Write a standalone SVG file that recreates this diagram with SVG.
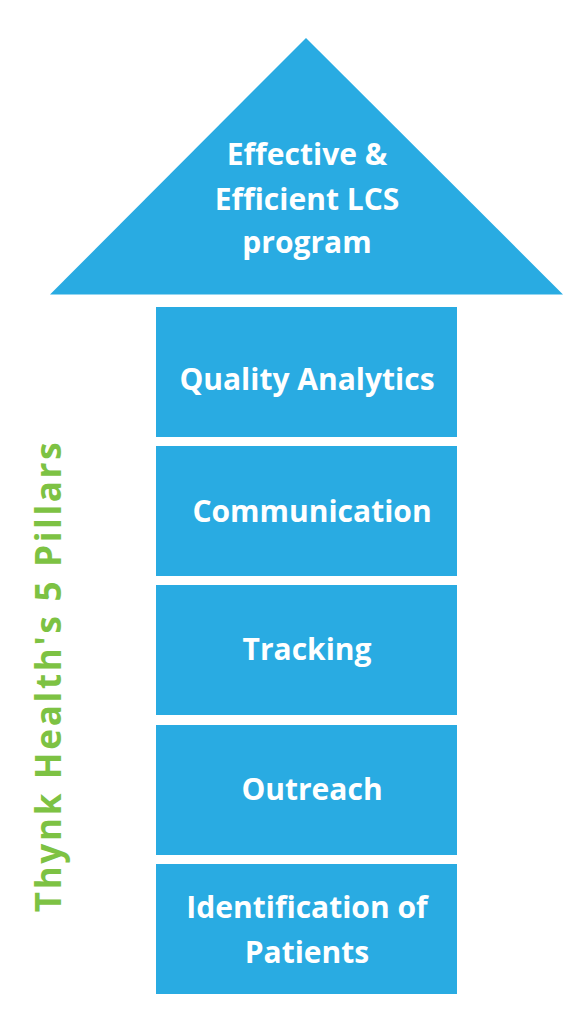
<svg xmlns="http://www.w3.org/2000/svg" width="576" height="1024" viewBox="0 0 576 1024">
<style>
.shape{fill:#29ABE2}
.lbl{font-family:"Open Sans","Liberation Sans",sans-serif;font-weight:bold;font-size:30px;fill:#ffffff;text-anchor:middle}
.side{font-family:"Open Sans","Liberation Sans",sans-serif;font-weight:bold;font-size:35px;fill:#7DC243;text-anchor:middle;letter-spacing:2.7px}
</style>
<rect width="576" height="1024" fill="#ffffff"/>
<g id="goal">
<polygon class="shape" points="306,38 563,294.5 50,294.5"/>
<text class="lbl" x="307" y="165">Effective &amp;</text>
<text class="lbl" x="307" y="210">Efficient LCS</text>
<text class="lbl" x="307" y="253">program</text>
</g>
<g id="quality-analytics">
<rect class="shape" x="156" y="307" width="301" height="130"/>
<text class="lbl" x="307" y="390">Quality Analytics</text>
</g>
<g id="communication">
<rect class="shape" x="156" y="446" width="301" height="130"/>
<text class="lbl" x="312" y="521.5">Communication</text>
</g>
<g id="tracking">
<rect class="shape" x="156" y="585" width="301" height="130"/>
<text class="lbl" x="307" y="659.5">Tracking</text>
</g>
<g id="outreach">
<rect class="shape" x="156" y="725" width="301" height="130"/>
<text class="lbl" x="312" y="800">Outreach</text>
</g>
<g id="identification">
<rect class="shape" x="156" y="864" width="301" height="130"/>
<text class="lbl" x="307" y="917.5">Identification of</text>
<text class="lbl" x="307" y="962.5">Patients</text>
</g>
<g id="side-label">
<text class="side" transform="translate(61,676) rotate(-90)">Thynk Health's 5 Pillars</text>
</g>
<g id="connectors"></g>
</svg>
